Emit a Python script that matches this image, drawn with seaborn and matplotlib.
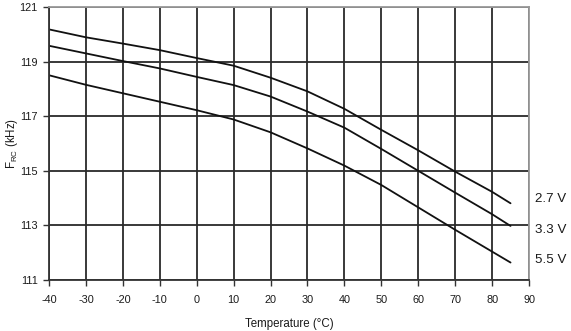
import matplotlib
matplotlib.use("Agg")
import matplotlib.pyplot as plt
import matplotlib.transforms as mtransforms
import seaborn as sns
import pandas as pd
import numpy as np

# ---- data ----
temperature = [-40, -30, -20, -10, 0, 10, 20, 30, 40, 50, 60, 70, 80, 85]
f_27v = [120.18, 119.89, 119.66, 119.42, 119.13, 118.85, 118.41, 117.91, 117.27, 116.50, 115.75, 114.97, 114.23, 113.81]
f_33v = [119.58, 119.30, 119.02, 118.75, 118.44, 118.14, 117.72, 117.17, 116.58, 115.80, 115.00, 114.20, 113.41, 112.98]
f_55v = [118.50, 118.15, 117.84, 117.53, 117.22, 116.88, 116.41, 115.82, 115.19, 114.48, 113.66, 112.84, 112.04, 111.64]
series_labels = ["2.7 V", "3.3 V", "5.5 V"]
x_ticks = [-40, -30, -20, -10, 0, 10, 20, 30, 40, 50, 60, 70, 80, 90]
y_ticks = [111, 113, 115, 117, 119, 121]

df = pd.concat([
    pd.DataFrame({"T": temperature, "F": vals, "V": lab})
    for vals, lab in zip([f_27v, f_33v, f_55v], series_labels)
])

sns.set_theme(style="white")
plt.rcParams['font.family'] = ['Liberation Sans', 'DejaVu Sans']
plt.rcParams['mathtext.fontset'] = 'custom'
plt.rcParams['mathtext.rm'] = 'Liberation Sans'
plt.rcParams['mathtext.it'] = 'Liberation Sans'

text_color = "#1a1a1a"
fig = plt.figure(figsize=(5.71, 3.31), dpi=100)
ax = fig.add_axes([49/571, 1-280/331, 480/571, 273/331])

sns.lineplot(data=df, x="T", y="F", hue="V", palette=["#111111"]*3,
             linewidth=1.3, legend=False, ax=ax, sort=False)

ax.set_xlim(-40, 90)
ax.set_ylim(111, 121)
ax.set_xticks(x_ticks)
ax.set_yticks(y_ticks)
ax.set_xticklabels([str(t) for t in x_ticks])
ax.set_yticklabels([str(t) for t in y_ticks])
ax.grid(True, color="#2a2a2a", linewidth=1.3)
ax.set_axisbelow(True)

ax.tick_params(axis="both", which="major", direction="out", length=4, width=1,
               color="#333333", labelsize=7.8, labelcolor=text_color,
               bottom=True, left=True)
ax.tick_params(axis="x", pad=7)
ax.tick_params(axis="y", pad=4)

for side in ["top", "right"]:
    ax.spines[side].set_color("#999999")
    ax.spines[side].set_linewidth(1.3)
for side in ["left", "bottom"]:
    ax.spines[side].set_color("#333333")
    ax.spines[side].set_linewidth(1.3)

ax.set_xlabel("Temperature (°C)", fontsize=8.3, color=text_color, labelpad=9)
ax.set_ylabel(r"F$_{\rm RC}$ (kHz)", fontsize=8.3, color=text_color, labelpad=0)

# right-hand series labels
label_y = [113.97, 112.83, 111.73]
trans = mtransforms.blended_transform_factory(ax.transAxes, ax.transData)
for lab, yy in zip(series_labels, label_y):
    ax.text(1.012, yy, lab, transform=trans, ha="left", va="center",
            fontsize=9.6, color=text_color)

fig.savefig("out.png", dpi=100)
